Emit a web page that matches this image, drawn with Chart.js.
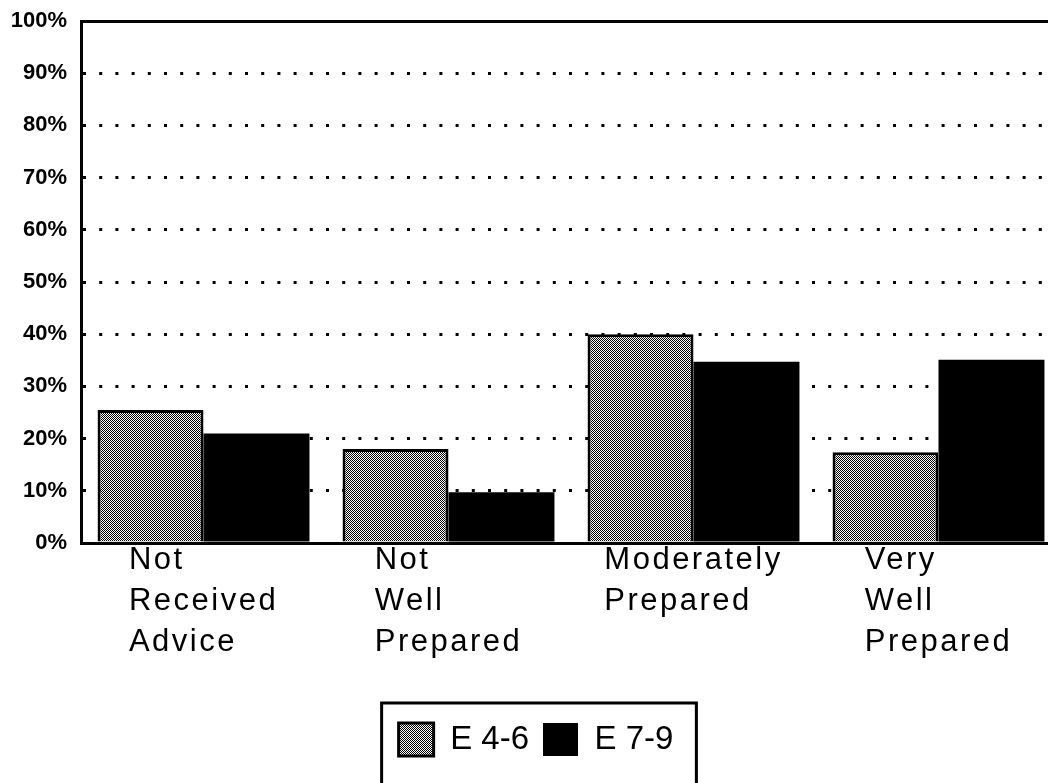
<!DOCTYPE html>
<html><head><meta charset="utf-8">
<script src="https://cdn.jsdelivr.net/npm/chart.js@4"></script>
<style>html,body{margin:0;padding:0;background:#fff;overflow:hidden;width:1048px;height:783px}canvas{display:block}</style>
</head><body><canvas id="c" width="1072" height="783"></canvas>
<script>
const categories = [["Not","Received","Advice"],["Not","Well","Prepared"],["Moderately","Prepared"],["Very","Well","Prepared"]];
const seriesNames = ["E 4-6","E 7-9"];
const e46 = [25.5, 18, 40, 17.4];
const e79 = [21, 9.7, 34.7, 35.1];
const yMin = 0, yMax = 100, yStep = 10;

const FONT = '"Liberation Sans", Arial, Helvetica, sans-serif';
const LABEL_SIZE = 31, LABEL_SPACING = 2.5;

function makePattern(){
  const c = document.createElement('canvas'); c.width = 2; c.height = 2;
  const g = c.getContext('2d');
  g.fillStyle = '#fff'; g.fillRect(0,0,2,2);
  g.fillStyle = '#000'; g.fillRect(0,0,1,1); g.fillRect(1,1,1,1);
  return g.createPattern(c, 'repeat');
}

const canvas = document.getElementById('c');
const pattern = makePattern();

const textPlugin = {
  id: 'textAndFrame',
  beforeDraw(chart){ chart.ctx.letterSpacing = '0px'; },
  afterDatasetsDraw(chart){ chart.ctx.letterSpacing = LABEL_SPACING + 'px'; },
  afterDraw(chart){
    const ctx = chart.ctx;
    ctx.letterSpacing = '0px';
    const hb = chart.legend && chart.legend.legendHitBoxes;
    if (!hb || !hb.length) return;
    const f = hb[0], l = hb[hb.length-1];
    const left = f.left - 17, right = l.left + l.width + 23, top = f.top - 20;
    ctx.save();
    ctx.lineWidth = 3; ctx.strokeStyle = '#000';
    ctx.strokeRect(left, top, right - left, 200);
    ctx.restore();
  }
};

new Chart(canvas, {
  type: 'bar',
  data: {
    labels: categories.map(c => c.join(' ')),
    datasets: [
      { label: seriesNames[0], data: e46, backgroundColor: pattern, borderColor: '#000', borderWidth: 3,
        borderSkipped: 'bottom', categoryPercentage: 0.865, barPercentage: 1.0, xAxisID: 'x' },
      { label: seriesNames[1], data: e79, backgroundColor: '#000', borderColor: '#000', borderWidth: 0,
        categoryPercentage: 0.865, barPercentage: 1.0, xAxisID: 'x' }
    ]
  },
  options: {
    responsive: false,
    animation: false,
    devicePixelRatio: 1,
    layout: { padding: { left: 11, right: 11, top: 21, bottom: 17 } },
    plugins: {
      tooltip: { enabled: false },
      legend: {
        position: 'bottom',
        labels: {
          color: '#000',
          font: { family: FONT, size: 33 },
          boxWidth: 35, boxHeight: 33, padding: 14
        }
      }
    },
    scales: {
      x: {
        type: 'category', position: 'bottom', weight: 0,
        ticks: { display: false },
        grid: { display: false, drawTicks: false },
        border: { display: true, color: '#000', width: 3, z: 1 },
        afterFit(s){ s.height = 0; }
      },
      xl: {
        type: 'linear', position: 'bottom', weight: 1,
        min: -0.5, max: categories.length - 0.5, offset: false,
        grid: { display: false, drawTicks: false },
        border: { display: false },
        ticks: {
          autoSkip: false, maxRotation: 0, minRotation: 0, align: 'start', padding: -3, z: 1,
          color: '#000',
          font: { family: FONT, size: LABEL_SIZE, lineHeight: 41 / LABEL_SIZE },
          callback: (v, i) => categories[i]
        },
        afterBuildTicks(s){
          const ctx = s.ctx;
          const unit = (s.width > 100 ? s.width : 980) / categories.length;
          ctx.save();
          ctx.font = LABEL_SIZE + 'px ' + FONT;
          ctx.letterSpacing = LABEL_SPACING + 'px';
          s.ticks = categories.map((lines, i) => {
            const w = Math.max(...lines.map(t => ctx.measureText(t).width));
            return { value: i - (w / 2) / unit };
          });
          ctx.restore();
        },
        afterFit(s){ s.height = 166; s.paddingLeft = 0; s.paddingRight = 0; }
      },
      y: {
        min: yMin, max: yMax,
        ticks: {
          stepSize: yStep, padding: 14, color: '#000',
          font: { family: FONT, size: 22, weight: 'bold' },
          callback: v => v + '%'
        },
        grid: { color: '#000', lineWidth: 3, drawTicks: false },
        border: {
          display: true, color: '#000', width: 3,
          dash: c => (c.tick && c.tick.value > yMin && c.tick.value < yMax) ? [3, 13.2] : []
        },
        afterFit(s){ s.width = 70; s.paddingTop = 0; s.paddingBottom = 0; }
      }
    }
  },
  plugins: [textPlugin]
});
</script>
</body></html>
